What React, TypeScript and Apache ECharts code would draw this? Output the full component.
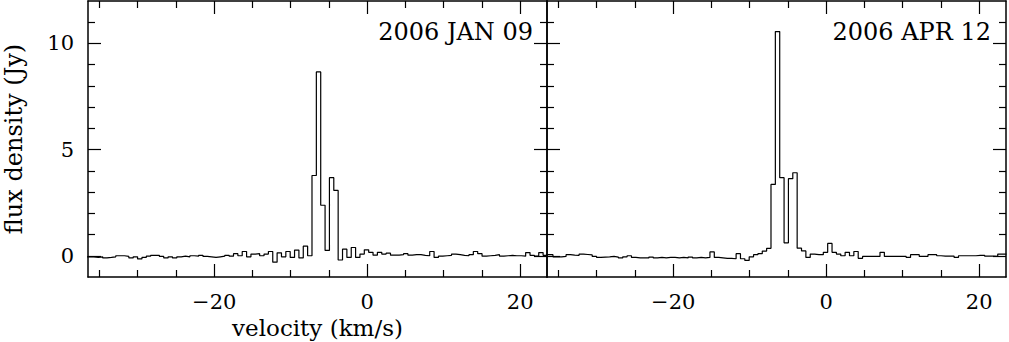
import React, { useEffect, useRef } from "react";
import * as echarts from "echarts";

// Spectral channel grid (km/s)
const channelWidth = 0.57;
const firstEdge = -36.86;

// Flux density per channel (Jy)
const janFlux = [
  -0.05, -0.05, -0.08, -0.05, -0.1, -0.08, -0.05, 0, 0, -0.03,
  -0.1, -0.05, -0.15, -0.08, -0.02, 0.02, 0.02, -0.03, -0.1, -0.05,
  -0.1, -0.05, -0.02, -0.05, 0, -0.02, 0.02, -0.03, -0.05, -0.08,
  -0.05, -0.02, 0.02, -0.02, 0.1, 0, 0.2, -0.05, 0.08, 0.1,
  0, 0.08, 0.2, -0.3, 0.14, -0.05, 0.2, -0.08, 0.27, -0.1,
  0.45, 0,
  3.78, 8.66, 2.38, 0.25, 3.68, 3.08,
  -0.2, 0.31, -0.08, 0.39, -0.08, 0.08, 0.28, 0.16, 0.03, 0.16,
  0.08, 0.12, 0.03, 0.03, 0.05, 0.1, 0.03, 0.05, 0.05, 0.02,
  0.0, 0.2, -0.08, -0.02, 0.0, 0.02, 0.08, 0.05, 0.02, 0.0,
  0.05, 0.2, 0.1, -0.02, 0.0, 0.02, 0.05, -0.02, 0.0, 0.02,
  0.0, 0.0, -0.02, 0.15, 0.02, -0.02, 0.15, 0.02,
];

const aprFlux = [
  0.05, 0.05, -0.05, -0.05, -0.03, 0.05, 0.03, 0.02, 0.08, 0.06,
  0.04, -0.03, -0.08, -0.06, -0.05, -0.03, -0.06, -0.1, -0.05, 0.0,
  -0.08, -0.1, -0.1, -0.1, -0.06, -0.1, -0.08, -0.1, -0.08, -0.08,
  -0.1, -0.08, -0.1, -0.06, -0.1, -0.08, -0.1, -0.08, 0.18, -0.08,
  -0.1, -0.12, -0.12, -0.14, 0.1, -0.14, -0.22, -0.05, 0.05, 0.1,
  0.22, 0.35,
  3.36, 10.56, 3.68, 0.61, 3.63, 3.91,
  0.36, 0.23, -0.08, 0.08, 0.05, 0.05, 0.16, 0.58, 0.16, 0.08,
  0.0, 0.16, 0.0, 0.2, -0.12, -0.03, -0.03, -0.03, -0.03, 0.16,
  -0.03, -0.03, -0.03, -0.03, -0.03, -0.08, 0.05, 0.05, -0.03, -0.03,
  0.05, 0.05, 0.0, -0.02, -0.02, -0.02, -0.08, 0.0, 0.0, 0.0,
  0.0, 0.02, 0.02, -0.02, -0.02, -0.03, 0.08, 0.08,
];

const panelTitles = ["2006 JAN 09", "2006 APR 12"];
const xRange = [-36.5, 23.5];
const yRange = [-1, 12];
const xMajor = [-20, 0, 20];
const xMinor = [-35, -30, -25, -15, -10, -5, 5, 10, 15];
const yMajor = [0, 5, 10];
const yMinor = [1, 2, 3, 4, 6, 7, 8, 9, 11];
const xName = "velocity (km/s)";
const yName = "flux density (Jy)";

const FONT = "DejaVu Serif";

function stepData(flux: number[]) {
  const pts = flux.map((f, i) => [firstEdge + i * channelWidth, f]);
  pts.push([firstEdge + flux.length * channelWidth, flux[flux.length - 1]]);
  return pts;
}

const fmt = (v: number) => (v < 0 ? "\u2212" + Math.abs(v) : String(v));

export default function App() {
  const ref = useRef<HTMLDivElement>(null);
  useEffect(() => {
    if (!ref.current) return;
    const chart = echarts.init(ref.current, undefined, { renderer: "svg" });
    const panels = [
      { left: 88, width: 459 },
      { left: 547, width: 459 },
    ];
    const grids: any[] = [];
    const mkGrid = (p: { left: number; width: number }) => ({
      left: p.left,
      top: 1,
      width: p.width,
      height: 276,
      containLabel: false,
      outerBoundsMode: "none",
    });
    panels.forEach((p) => grids.push(mkGrid(p)));
    panels.forEach((p) => grids.push(mkGrid(p)));

    const xAxes: any[] = [];
    const yAxes: any[] = [];
    grids.forEach((_, g) => {
      const major = g < 2;
      const tickVals = major ? xMajor : xMinor;
      const yTickVals = major ? yMajor : yMinor;
      const len = major ? 13 : 7;
      ["bottom", "top"].forEach((pos) => {
        const showLabel = major && pos === "bottom";
        xAxes.push({
          type: "value",
          gridIndex: g,
          position: pos,
          min: xRange[0],
          max: xRange[1],
          axisLine: { show: major, onZero: false, lineStyle: { color: "#000", width: 1.5 } },
          axisTick: { show: true, inside: true, length: len, customValues: tickVals, lineStyle: { color: "#000", width: 1.2 } },
          axisLabel: {
            show: showLabel,
            customValues: xMajor,
            formatter: fmt,
            margin: 14,
            color: "#000",
            fontFamily: FONT,
            fontSize: 21,
          },
          splitLine: { show: false },
          name: g === 0 && pos === "bottom" ? xName : "",
          nameLocation: "middle",
          nameGap: 38,
          nameTextStyle: { color: "#000", fontFamily: FONT, fontSize: 23 },
        });
      });
      ["left", "right"].forEach((pos) => {
        const showLabel = g === 0 && pos === "left";
        yAxes.push({
          type: "value",
          gridIndex: g,
          position: pos,
          min: yRange[0],
          max: yRange[1],
          axisLine: { show: major, onZero: false, lineStyle: { color: "#000", width: 1.5 } },
          axisTick: { show: true, inside: true, length: len, customValues: yTickVals, lineStyle: { color: "#000", width: 1.2 } },
          axisLabel: {
            show: showLabel,
            customValues: yMajor,
            formatter: fmt,
            margin: 14,
            color: "#000",
            fontFamily: FONT,
            fontSize: 21,
          },
          splitLine: { show: false },
          name: showLabel ? yName : "",
          nameLocation: "middle",
          nameGap: 62,
          nameTextStyle: { color: "#000", fontFamily: FONT, fontSize: 24 },
        });
      });
    });

    const option: any = {
      animation: false,
      backgroundColor: "#fff",
      grid: grids,
      xAxis: xAxes,
      yAxis: yAxes,
      series: [janFlux, aprFlux].map((flux, i) => ({
        type: "line",
        xAxisIndex: i * 2,
        yAxisIndex: i * 2,
        data: stepData(flux),
        step: "end",
        symbol: "none",
        clip: true,
        lineStyle: { color: "#000", width: 1.2 },
      })),
      graphic: panelTitles.map((t, i) => ({
        type: "text",
        x: i === 0 ? 533 : 991,
        y: 32,
        style: {
          text: t,
          align: "right",
          verticalAlign: "middle",
          fill: "#000",
          font: `24px "${FONT}"`,
        },
      })),
    };
    chart.setOption(option);
    return () => chart.dispose();
  }, []);
  return (
    <div
      ref={ref}
      style={{ position: "fixed", left: 0, top: 0, width: 1009, height: 342, background: "#fff" }}
    />
  );
}
